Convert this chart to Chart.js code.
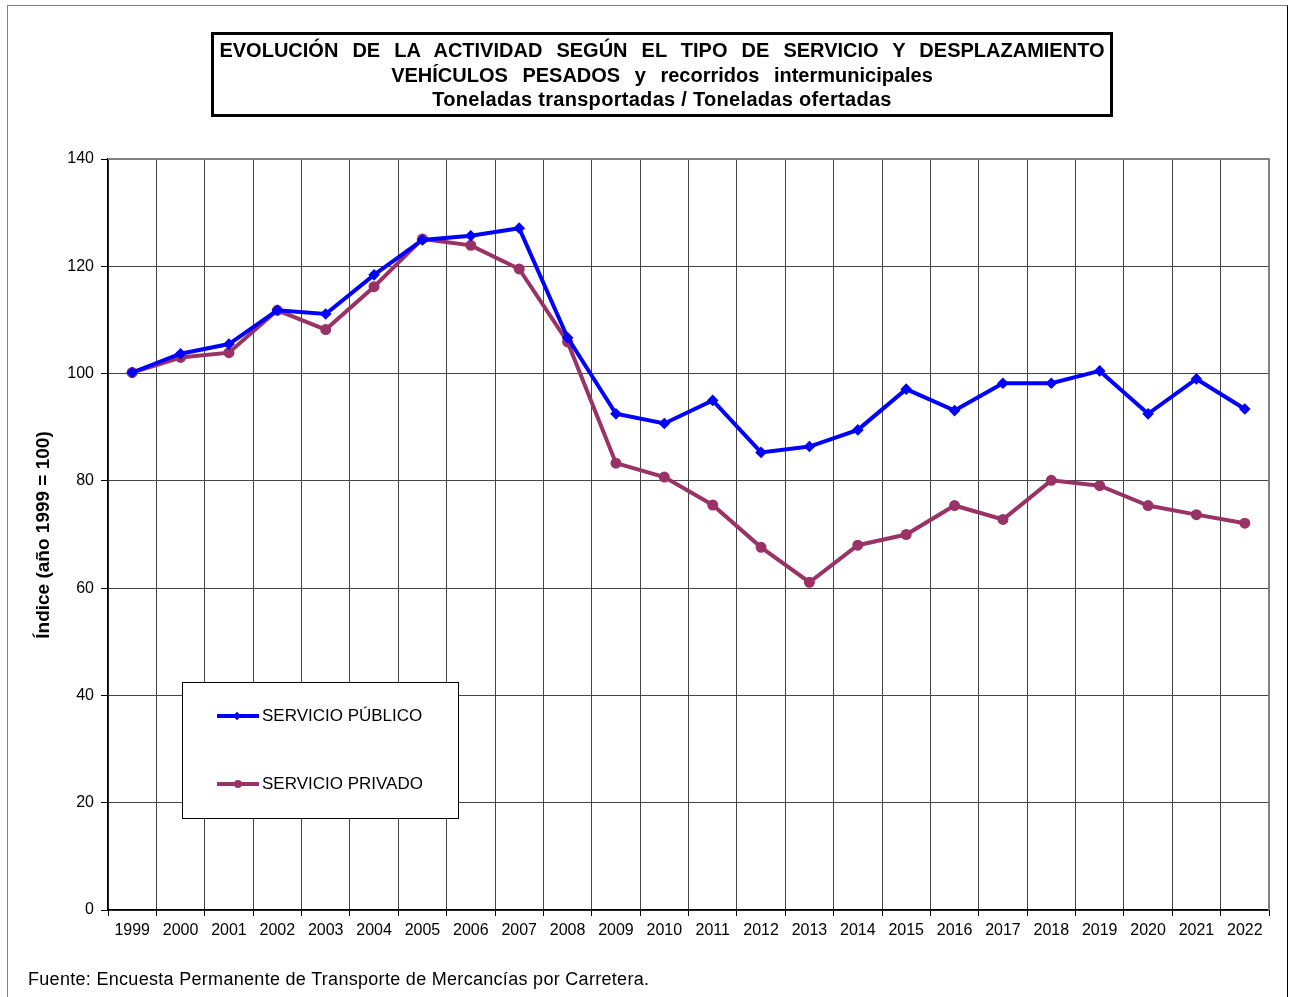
<!DOCTYPE html>
<html>
<head>
<meta charset="utf-8">
<script src="https://cdn.jsdelivr.net/npm/chart.js@4/dist/chart.umd.min.js"></script>
<style>
  body { margin: 0; background: #fff; font-family: "Liberation Sans", Arial, sans-serif; }
  #wrap { position: relative; width: 1296px; height: 997px; overflow: hidden; }
  #frame { position: absolute; left: 7px; top: 5px; width: 1281px; height: 1000px; border: 1px solid #808080; box-sizing: border-box; border-right-color: #000; }
  #titleBox { position: absolute; left: 211px; top: 32px; width: 902px; height: 85px; box-sizing: border-box;
    border: 3px solid #000; text-align: center; font-weight: bold; font-size: 20px; line-height: 24.5px; padding-top: 3px; }
  #titleBox div { white-space: nowrap; }
  #yTitle { position: absolute; left: 43px; top: 535px; transform: translate(-50%, -50%) rotate(-90deg);
    font-weight: bold; font-size: 19px; white-space: nowrap; }
  #legend { position: absolute; left: 182px; top: 682px; width: 277px; height: 137px; box-sizing: border-box;
    border: 1px solid #000; background: #fff; }
  .item { position: absolute; left: 34px; height: 20px; display: flex; align-items: center; font-size: 17px; }
  .sample { position: relative; width: 42px; height: 20px; margin-right: 3px; }
  .sample i { position: absolute; left: 0; right: 0; top: 8px; height: 4px; }
  .sample b { position: absolute; left: 17px; top: 6px; width: 8px; height: 8px; border-radius: 50%; }
  #source { position: absolute; left: 28px; top: 969px; font-size: 18px; letter-spacing: 0.3px; }
</style>
</head>
<body>
<div id="wrap">
  <canvas id="lineChart" width="1296" height="997"></canvas>
  <div id="frame"></div>
  <div id="titleBox">
    <div style="word-spacing:8.5px">EVOLUCIÓN DE LA ACTIVIDAD SEGÚN EL TIPO DE SERVICIO Y DESPLAZAMIENTO</div>
    <div style="word-spacing:9px">VEHÍCULOS PESADOS y recorridos intermunicipales</div>
    <div style="letter-spacing:0.3px">Toneladas transportadas / Toneladas ofertadas</div>
  </div>
  <div id="yTitle">Índice (año 1999 = 100)</div>
  <div id="legend"></div>
  <div id="source">Fuente: Encuesta Permanente de Transporte de Mercancías por Carretera.</div>
</div>
<script>
  // years on the x axis
  var years = ['1999', '2000', '2001', '2002', '2003', '2004', '2005', '2006', '2007', '2008', '2009', '2010',
               '2011', '2012', '2013', '2014', '2015', '2016', '2017', '2018', '2019', '2020', '2021', '2022'];

  // index values (1999 = 100)
  var publico = [100.2, 103.7, 105.5, 111.8, 111.1, 118.4, 124.9, 125.7, 127.1, 106.7, 92.5, 90.7,
                 95.0, 85.3, 86.4, 89.5, 97.1, 93.1, 98.2, 98.2, 100.5, 92.5, 99.0, 93.4];
  var privado = [100.2, 103.0, 103.9, 111.8, 108.2, 116.2, 125.1, 123.9, 119.5, 105.9, 83.3, 80.7,
                 75.5, 67.6, 61.1, 68.0, 70.0, 75.4, 72.8, 80.1, 79.1, 75.4, 73.7, 72.1];

  var seriesNames = ['SERVICIO PÚBLICO', 'SERVICIO PRIVADO'];
  var seriesColors = ['#0000ff', '#993366'];

  var yTicks = [0, 20, 40, 60, 80, 100, 120, 140];

  // gray border on top and right of the plot area
  var plotBorder = {
    id: 'plotBorder',
    afterDraw: function (chart) {
      var a = chart.chartArea, c = chart.ctx;
      c.save();
      c.strokeStyle = '#808080';
      c.lineWidth = 2;
      c.beginPath();
      c.moveTo(a.left, a.top);
      c.lineTo(a.right, a.top);
      c.lineTo(a.right, a.bottom);
      c.stroke();
      c.restore();
    }
  };

  var ctx = document.getElementById('lineChart').getContext('2d');
  var chart = new Chart(ctx, {
    type: 'line',
    data: {
      labels: years,
      datasets: [{
        label: seriesNames[0],
        data: publico,
        borderColor: seriesColors[0],
        backgroundColor: seriesColors[0],
        borderWidth: 4,
        pointStyle: 'rectRot',
        pointRadius: 3,
        tension: 0
      }, {
        label: seriesNames[1],
        data: privado,
        borderColor: seriesColors[1],
        backgroundColor: seriesColors[1],
        borderWidth: 4,
        pointStyle: 'circle',
        pointRadius: 3.5,
        tension: 0
      }]
    },
    options: {
      responsive: false,
      animation: false,
      layout: { padding: { left: 0, top: 159, right: 27, bottom: 47 } },
      plugins: { legend: { display: false }, title: { display: false }, tooltip: { enabled: false } },
      scales: {
        x: {
          offset: true,
          grid: { offset: true, color: '#444', borderDash: [1, 1], tickLength: 6, tickBorderDash: [], tickColor: '#000' },
          border: { color: '#000', width: 1.5 },
          ticks: { color: '#000', font: { family: 'Liberation Sans', size: 16 }, padding: 5, maxRotation: 0, autoSkip: false },
          afterFit: function (s) { s.height = 40; }
        },
        y: {
          min: 0,
          max: 140,
          afterBuildTicks: function (s) { s.ticks = yTicks.map(function (v) { return { value: v }; }); },
          grid: { color: '#444', borderDash: [1, 1], tickLength: 7, tickBorderDash: [], tickColor: '#000' },
          border: { color: '#000', width: 1.5 },
          ticks: { color: '#000', font: { family: 'Liberation Sans', size: 16 }, padding: 7 },
          afterFit: function (s) { s.width = 108; }
        }
      }
    },
    plugins: [plotBorder]
  });

  // legend built from the datasets
  var legend = document.getElementById('legend');
  chart.data.datasets.forEach(function (ds, i) {
    var row = document.createElement('div');
    row.className = 'item';
    row.style.top = (i === 0 ? 23 : 91) + 'px';
    var round = ds.pointStyle === 'circle' ? '50%' : '0';
    var size = ds.pointStyle === 'circle' ? 8 : 6;
    row.innerHTML = '<span class="sample"><i style="background:' + ds.borderColor + '"></i>' +
      '<b style="background:' + ds.borderColor + ';border-radius:' + round + ';width:' + size + 'px;height:' + size +
      'px;top:' + (10 - size / 2) + 'px;' + (round === '0' ? 'transform:rotate(45deg);' : '') + '"></b></span>' +
      '<span>' + ds.label + '</span>';
    legend.appendChild(row);
  });
</script>
</body>
</html>
